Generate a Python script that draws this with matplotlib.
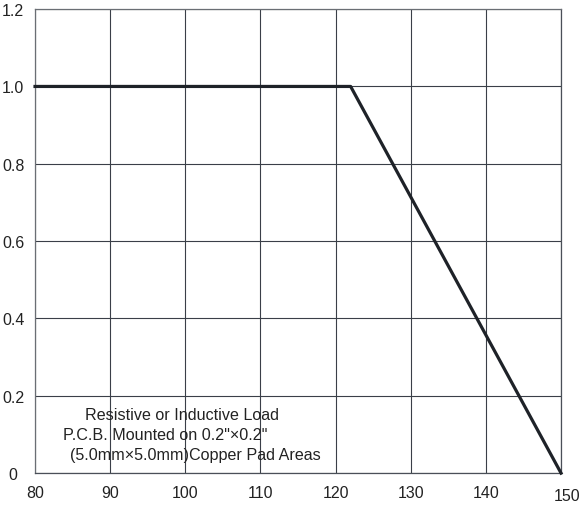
import matplotlib
matplotlib.use("Agg")
import matplotlib.pyplot as plt
from matplotlib.transforms import ScaledTranslation

plt.rcParams["font.family"] = ["Liberation Sans", "DejaVu Sans"]

# derating curve
temperature = [80, 122, 150]
ratio = [1.0, 1.0, 0.0]

x_ticks = [80, 90, 100, 110, 120, 130, 140, 150]
y_ticks = [0, 0.2, 0.4, 0.6, 0.8, 1.0, 1.2]
y_labels = ["0", "0.2", "0.4", "0.6", "0.8", "1.0", "1.2"]

note_lines = [
    "Resistive or Inductive Load",
    "P.C.B. Mounted on 0.2\"\u00d70.2\"",
    "(5.0mm\u00d75.0mm)Copper Pad Areas",
]
note_x = [86.6, 83.7, 84.6]
note_y = [0.152, 0.1, 0.048]

fig = plt.figure(figsize=(5.79, 5.06), dpi=100)
ax = fig.add_axes([0.0605, 0.063, 0.9085, 0.917])

ax.set_xlim(80, 150)
ax.set_ylim(0, 1.2)
ax.set_xticks(x_ticks)
ax.set_yticks(y_ticks)
ax.set_yticklabels(y_labels)

ax.grid(True, color="#3a3f48", linewidth=0.8, zorder=0)
for s in ax.spines.values():
    s.set_color("#4a4f58")
    s.set_linewidth(0.9)
ax.spines["top"].set_color("#6a6e74")
ax.spines["left"].set_color("#6a6e74")

ax.tick_params(axis="x", length=0, pad=8.6, labelsize=11.5, labelcolor="#222222")
ax.tick_params(axis="y", length=0, pad=15.8, labelsize=11.5, labelcolor="#222222")
for lab in ax.get_yticklabels():
    lab.set_horizontalalignment("center")

# 150 sits a bit lower and further right in the original
last = ax.get_xticklabels()[-1]
last.set_transform(last.get_transform() + ScaledTranslation(6 / 100, -3 / 100, fig.dpi_scale_trans))

ax.plot(temperature, ratio, color="#1e2228", linewidth=2.3, zorder=3, clip_on=False)

for txt, tx, ty in zip(note_lines, note_x, note_y):
    ax.text(tx, ty, txt, fontsize=11.6, color="#222222", va="center", ha="left")

fig.savefig("out.png", dpi=100)
